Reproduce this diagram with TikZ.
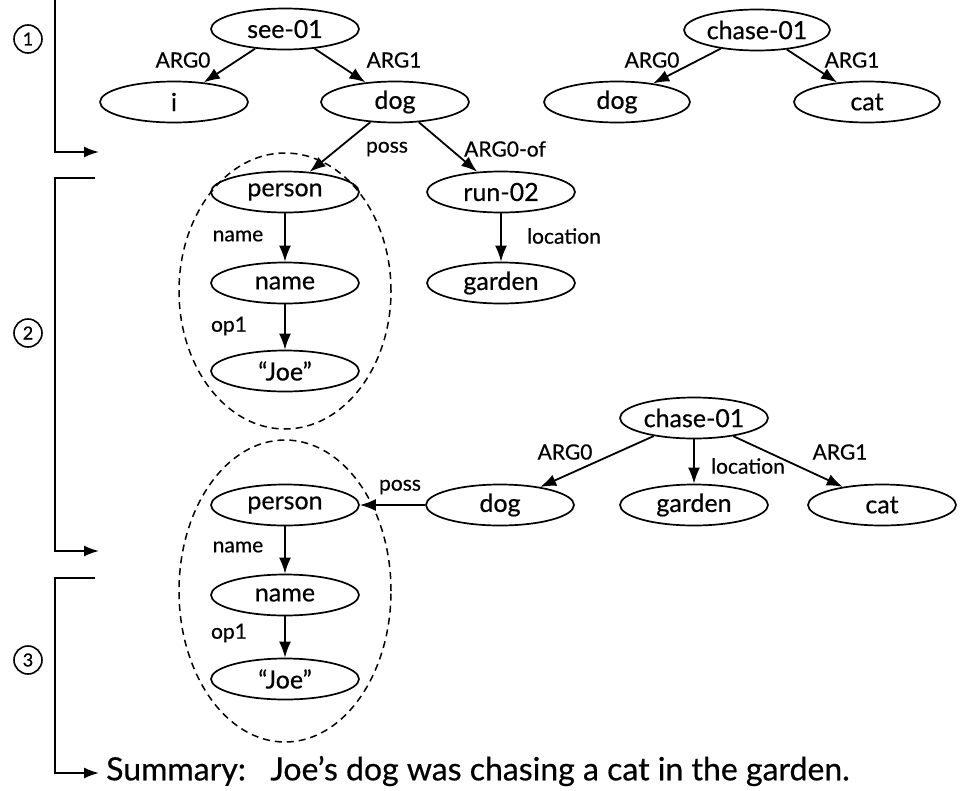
\documentclass[tikz,border=0pt]{standalone}
\usepackage{fontspec}
\setmainfont{Lato}[FakeBold=0.5]
\usetikzlibrary{shapes.geometric,arrows.meta}
\begin{document}
\begin{tikzpicture}[x=1pt,y=-1pt,
  ell/.style={ellipse, draw, line width=1.7pt, inner sep=0pt, minimum width=148pt, minimum height=41pt, font=\fontsize{25}{25}\selectfont},
  lbl/.style={inner sep=0pt, font=\fontsize{21}{21}\selectfont},
  edg/.style={line width=1.8pt, -{Latex[length=16pt,width=12pt]}},
  grp/.style={draw, line width=1.5pt, dash pattern=on 7pt off 5pt},
  num/.style={circle, draw, line width=1.6pt, minimum size=28pt, inner sep=0pt, font=\fontsize{18}{18}\selectfont},
  brk/.style={line width=1.8pt}
]
\useasboundingbox (0,0) rectangle (971,790);

% ---- stage 1
\node[ell] (see) at (285,29) {see-01};
\node[ell] (i) at (174,102) {i};
\node[ell] (dogA) at (395,102) {dog};
\node[ell, minimum width=146pt] (chaseA) at (757,30) {chase-01};
\node[ell, minimum width=146pt] (dogB) at (617,102) {dog};
\node[ell, minimum width=146pt] (catB) at (867,102) {cat};

\draw[edg] (see) -- (i);
\draw[edg] (see) -- (dogA);
\draw[edg] (chaseA) -- (dogB);
\draw[edg] (chaseA) -- (catB);
\node[lbl] (l1) at (183,60) {ARG0};
\node[lbl] (l2) at (394,60) {ARG1};
\node[lbl] (l3) at (652,60) {ARG0};
\node[lbl] (l4) at (852,60) {ARG1};

% ---- stage 2
\node[ell] (personA) at (285,192) {person};
\node[ell] (run) at (501,192) {run-02};
\node[ell] (nameA) at (285,283) {name};
\node[ell] (gardenA) at (501,283) {garden};
\node[ell] (joeA) at (285,371) {``Joe''};
\node[grp, ellipse, minimum width=212pt, minimum height=276pt, inner sep=0pt] (grpA) at (285,291) {};

\draw[edg] (dogA) -- (personA);
\draw[edg] (dogA) -- (run);
\draw[edg] (personA) -- (nameA);
\draw[edg] (nameA) -- (joeA);
\draw[edg] (run) -- (gardenA);
\node[lbl] (l5) at (387,149) {poss};
\node[lbl] (l6) at (505,149) {ARG0-of};
\node[lbl] (l7) at (238,236) {name};
\node[lbl] (l8) at (564,236) {location};
\node[lbl] (l9) at (229,326) {op1};

% ---- stage 3
\node[ell] (chaseC) at (694,418) {chase-01};
\node[ell] (dogC) at (500,505) {dog};
\node[ell] (gardenC) at (694,505) {garden};
\node[ell] (catC) at (882,505) {cat};
\node[ell] (personC) at (285,505) {person};
\node[ell] (nameC) at (285,595) {name};
\node[ell] (joeC) at (285,679) {``Joe''};
\node[grp, ellipse, minimum width=212pt, minimum height=302pt, inner sep=0pt] (grpC) at (285,591) {};

\draw[edg] (chaseC) -- (dogC);
\draw[edg] (chaseC) -- (gardenC);
\draw[edg] (chaseC) -- (catC);
\draw[edg] (dogC) -- (personC);
\draw[edg] (personC) -- (nameC);
\draw[edg] (nameC) -- (joeC);
\node[lbl] (l10) at (565,452) {ARG0};
\node[lbl] (l11) at (748,466) {location};
\node[lbl] (l12) at (840,452) {ARG1};
\node[lbl] (l13) at (400,487) {poss};
\node[lbl] (l14) at (238,547) {name};
\node[lbl] (l15) at (229,633) {op1};

% ---- brackets
\coordinate (b1s) at (55,0);
\coordinate (b1c) at (55,152);
\coordinate (b1e) at (99,152);
\draw[brk, -{Latex[length=15pt,width=11pt]}] (b1s) -- (b1c) -- (b1e);
\coordinate (b2s) at (95,178);
\coordinate (b2a) at (55,178);
\coordinate (b2c) at (55,551);
\coordinate (b2e) at (99,551);
\draw[brk, -{Latex[length=15pt,width=11pt]}] (b2s) -- (b2a) -- (b2c) -- (b2e);
\coordinate (b3s) at (95,578);
\coordinate (b3a) at (55,578);
\coordinate (b3c) at (55,773);
\coordinate (b3e) at (99,773);
\draw[brk, -{Latex[length=15pt,width=11pt]}] (b3s) -- (b3a) -- (b3c) -- (b3e);

\node[num] (n1) at (28,39) {1};
\node[num] (n2) at (28,333) {2};
\node[num] (n3) at (28,660) {3};

\node[anchor=west, inner sep=0pt, font=\fontsize{32}{32}\selectfont] (summary) at (106,771) {Summary:\ \ \ Joe's dog was chasing a cat in the garden.};
\end{tikzpicture}
\end{document}
